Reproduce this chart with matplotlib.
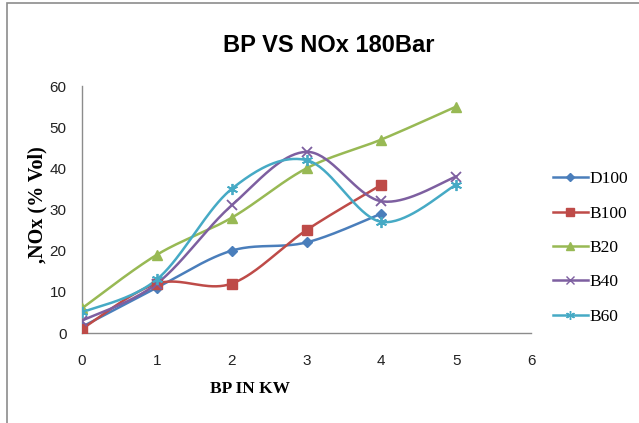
import numpy as np
import matplotlib
matplotlib.use("Agg")
import matplotlib.pyplot as plt
from matplotlib.lines import Line2D

bp = [0, 1, 2, 3, 4, 5]
d100 = [1.5, 11, 20, 22, 29]
b100 = [1, 12, 12, 25, 36]
b20 = [6, 19, 28, 40, 47, 55]
b40 = [3, 12, 31, 44, 32, 38]
b60 = [5, 13, 35, 42, 27, 36]

series = [
    ("D100", d100, "#4A7EBB", "D", 5),
    ("B100", b100, "#BE4B48", "s", 7),
    ("B20", b20, "#98B954", "^", 7),
    ("B40", b40, "#7D5FA0", "x", 7),
    ("B60", b60, "#46AAC5", (6, 2, 0), 8),
]


def smooth(xs, ys, n=40):
    xs = np.asarray(xs, float)
    ys = np.asarray(ys, float)
    m = len(xs)
    if m < 3:
        return xs, ys
    px = np.concatenate([[xs[0]], xs, [xs[-1]]])
    py = np.concatenate([[ys[0]], ys, [ys[-1]]])
    outx, outy = [], []
    t = np.linspace(0, 1, n)
    for i in range(1, m):
        p0x, p1x, p2x, p3x = px[i - 1], px[i], px[i + 1], px[i + 2]
        p0y, p1y, p2y, p3y = py[i - 1], py[i], py[i + 1], py[i + 2]
        c1x = p1x + (p2x - p0x) / 6
        c1y = p1y + (p2y - p0y) / 6
        c2x = p2x - (p3x - p1x) / 6
        c2y = p2y - (p3y - p1y) / 6
        bx = (1 - t) ** 3 * p1x + 3 * (1 - t) ** 2 * t * c1x + 3 * (1 - t) * t ** 2 * c2x + t ** 3 * p2x
        by = (1 - t) ** 3 * p1y + 3 * (1 - t) ** 2 * t * c1y + 3 * (1 - t) * t ** 2 * c2y + t ** 3 * p2y
        outx.extend(bx)
        outy.extend(by)
    return np.array(outx), np.array(outy)


W, H = 639, 423
fig = plt.figure(figsize=(W / 100, H / 100), dpi=100)
fig.patches.append(plt.Rectangle((7 / W, -0.1), 2, 1.1 - 3 / H, transform=fig.transFigure,
                                 fill=False, edgecolor="#8C8C8C", linewidth=1.2))

ax = fig.add_axes([82 / W, (H - 333) / H, (531 - 82) / W, (333 - 86) / H])

handles = []
for name, vals, col, mk, ms in series:
    xs = bp[:len(vals)]
    sx, sy = smooth(xs, vals)
    ax.plot(sx, sy, color=col, lw=1.8, zorder=2)
    if mk in ("x",) or isinstance(mk, tuple):
        ax.plot(xs, vals, linestyle="none", marker=mk, markersize=ms, color=col,
                markeredgewidth=1.3, zorder=3)
    else:
        ax.plot(xs, vals, linestyle="none", marker=mk, markersize=ms, color=col,
                markeredgecolor=col, zorder=3)
    handles.append(Line2D([0], [0], color=col, lw=1.8, marker=mk,
                          markersize=ms * 0.8, markeredgewidth=1.0))

ax.set_xlim(0, 6)
ax.set_ylim(0, 60)
ax.set_xticks(range(0, 7))
ax.set_yticks(range(0, 61, 10))
for s in ["top", "right"]:
    ax.spines[s].set_visible(False)
for s in ["left", "bottom"]:
    ax.spines[s].set_color("#8C8C8C")
    ax.spines[s].set_linewidth(1.0)
ax.tick_params(length=0, labelsize=11, labelcolor="#222222")
ax.tick_params(axis="x", pad=15)
ax.tick_params(axis="y", pad=11)
for lab in ax.get_xticklabels() + ax.get_yticklabels():
    lab.set_family("Liberation Sans")

fig.text(250 / W, 1 - 389 / H, "BP IN KW", ha="center", va="center",
         family="Liberation Serif", fontweight="bold", fontsize=12.5)
fig.text(37 / W, 1 - 205 / H, ",NOx (% Vol)", ha="center", va="center", rotation=90,
         family="Liberation Serif", fontweight="bold", fontsize=14.5)

fig.text(329 / W, 1 - 45 / H, "BP VS NOx 180Bar", ha="center", va="center",
         family="Liberation Sans", fontsize=17, fontweight="bold")

leg = fig.legend(handles, [s[0] for s in series], loc="center left",
                 bbox_to_anchor=(553 / W, 1 - 248 / H), frameon=False,
                 prop={"family": "Liberation Serif", "size": 12.5}, handlelength=2.0,
                 handletextpad=0.1, labelspacing=1.05, borderpad=0, borderaxespad=0)

fig.savefig("out.png", dpi=100)
